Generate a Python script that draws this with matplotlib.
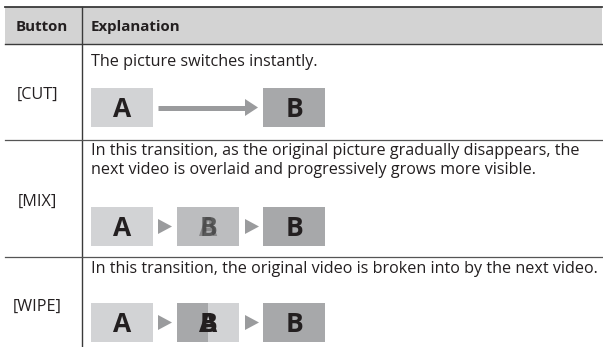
import matplotlib
matplotlib.use("Agg")
import matplotlib.pyplot as plt
from matplotlib.patches import Rectangle, Polygon

plt.rcParams['font.family'] = ['Open Sans', 'DejaVu Sans']

headers = ["Button", "Explanation"]
buttons = ["[CUT]", "[MIX]", "[WIPE]"]
explanations = [
    "The picture switches instantly.",
    "In this transition, as the original picture gradually disappears, the\n"
    "next video is overlaid and progressively grows more visible.",
    "In this transition, the original video is broken into by the next video.",
]
# frames shown in each row: letters in the frame and how they are combined
frames = [
    [("A", "plain"), ("B", "plain")],
    [("A", "plain"), ("AB", "mix"), ("B", "plain")],
    [("A", "plain"), ("BA", "wipe"), ("B", "plain")],
]

W, H = 603, 347
fig = plt.figure(figsize=(W / 100, H / 100), dpi=100)
ax = fig.add_axes([0, 0, 1, 1])
ax.set_xlim(0, W)
ax.set_ylim(H, 0)
ax.axis('off')

light = '#d2d3d5'
dark = '#a7a8aa'
mid = '#bcbdbf'
arrow_c = '#9a9b9d'
line_c = '#3a3a3a'
ink = '#231f20'

x0, x1, xdiv = 5, 602, 82
head_top, head_bot = 7, 44
row_top = [44, 140, 257]
label_y = [95, 202, 307]
text_base = [66, 174, 273]   # baseline of the last line
box_top = [88, 207, 303]
box_h = 39
box_w = 62
big = 19
body = 11.6

# header
ax.add_patch(Rectangle((x0, head_top), x1 - x0, head_bot - head_top, facecolor='#d3d3d3', edgecolor='none'))
ax.plot([x0, x1], [head_top, head_top], color=line_c, lw=1.3)
ax.plot([x0, x1], [head_bot, head_bot], color=line_c, lw=1.0)
ax.plot([xdiv, xdiv], [head_top, H], color=line_c, lw=1.0)
ax.text(42, 27, headers[0], ha='center', va='center', fontsize=10.8, fontweight='bold', color=ink)
ax.text(91, 27, headers[1], ha='left', va='center', fontsize=10.8, fontweight='bold', color=ink)

for i in range(3):
    if i > 0:
        ax.plot([x0, x1], [row_top[i], row_top[i]], color='#555555', lw=0.9)
    ax.text(37, label_y[i], buttons[i], ha='center', va='center', fontsize=body, color=ink)
    ax.text(91, text_base[i], explanations[i], ha='left', va='baseline', fontsize=body,
            color=ink, linespacing=1.25)

    bt = box_top[i]
    cy = bt + box_h / 2
    fr = frames[i]
    xs = [91, 263] if len(fr) == 2 else [91, 177, 263]
    for j, (letters, kind) in enumerate(fr):
        bx = xs[j]
        tx, ty = bx + box_w / 2, cy + 2
        if kind == 'plain':
            fc = light if letters == 'A' else dark
            ax.add_patch(Rectangle((bx, bt), box_w, box_h, facecolor=fc, edgecolor='none'))
            ax.text(tx, ty, letters, ha='center', va='center', fontsize=big,
                    fontweight='bold', color=ink)
        elif kind == 'mix':
            ax.add_patch(Rectangle((bx, bt), box_w, box_h, facecolor=mid, edgecolor='none'))
            ax.text(tx, ty, letters[0], ha='center', va='center', fontsize=big,
                    fontweight='bold', color='#3a3a3a', alpha=0.4)
            ax.text(tx, ty, letters[1], ha='center', va='center', fontsize=big,
                    fontweight='bold', color='#3a3a3a', alpha=0.75)
        else:
            half = 31
            left = Rectangle((bx, bt), half, box_h, facecolor=dark, edgecolor='none')
            right = Rectangle((bx + half, bt), box_w - half, box_h, facecolor=light, edgecolor='none')
            ax.add_patch(left)
            ax.add_patch(right)
            tl = ax.text(tx, ty, letters[0], ha='center', va='center', fontsize=big,
                         fontweight='bold', color=ink)
            tl.set_clip_path(left)
            tr = ax.text(tx, ty, letters[1], ha='center', va='center', fontsize=big,
                         fontweight='bold', color=ink)
            tr.set_clip_path(right)

    if len(fr) == 2:
        ax.plot([158, 246], [cy, cy], color=arrow_c, lw=3.6, solid_capstyle='butt')
        ax.add_patch(Polygon([[245, cy - 8.5], [258, cy], [245, cy + 8.5]], closed=True,
                             facecolor=arrow_c, edgecolor='none'))
    else:
        for px in (158, 245):
            ax.add_patch(Polygon([[px, cy - 7.5], [px + 14, cy], [px, cy + 7.5]], closed=True,
                                 facecolor=arrow_c, edgecolor='none'))

fig.savefig('out.png', dpi=100)
